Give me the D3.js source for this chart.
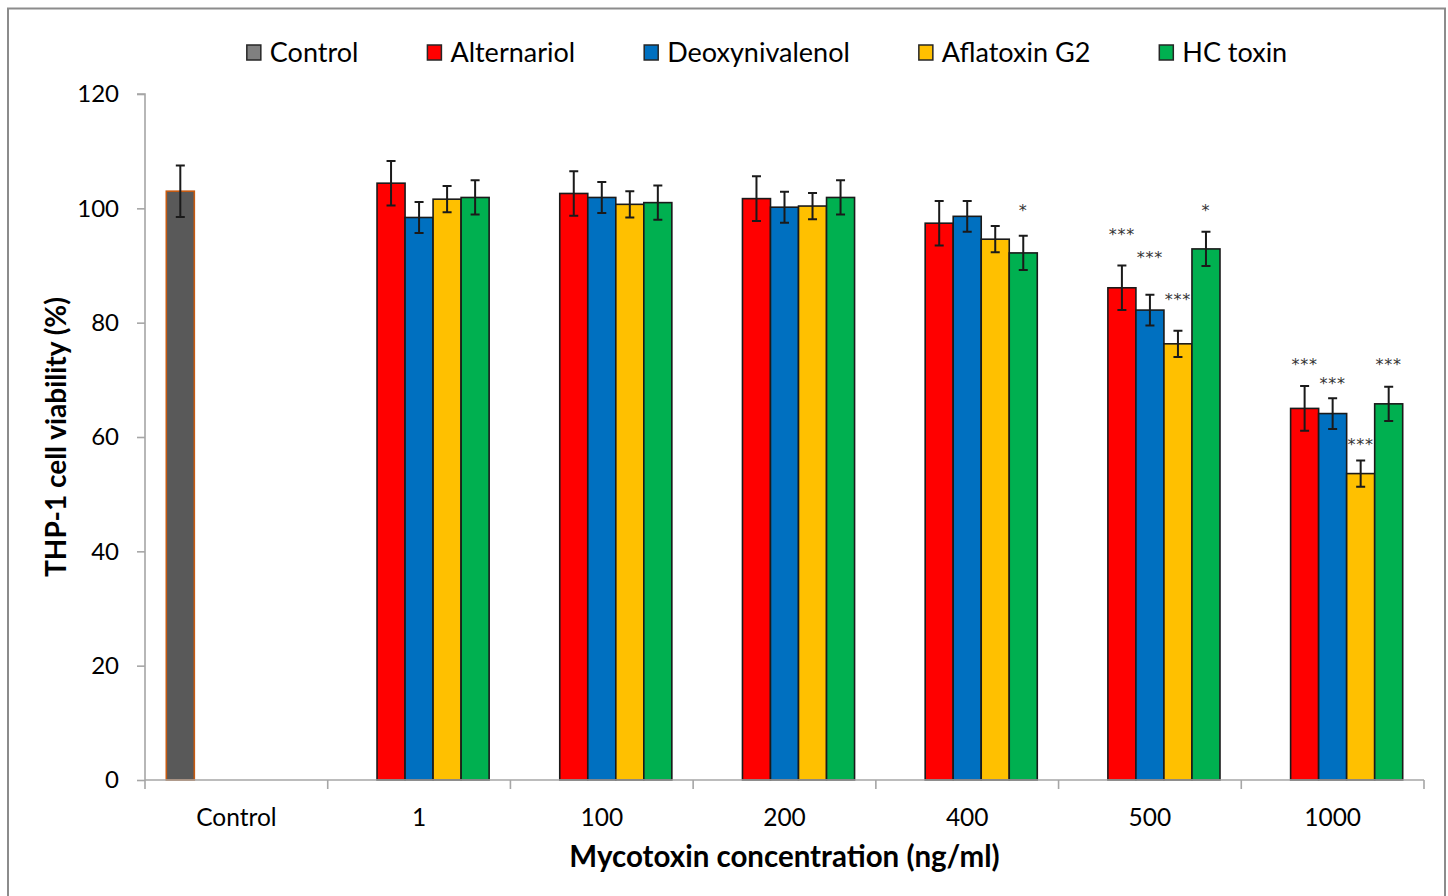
<!DOCTYPE html>
<html>
<head>
<meta charset="utf-8">
<script src="https://cdn.jsdelivr.net/npm/d3@7"></script>
<style>
  html, body { margin: 0; padding: 0; background: #fff; }
  svg { display: block; }
</style>
</head>
<body>
<svg id="chart" width="1448" height="896"></svg>
<script>
// ---------- DATA ----------
const categories = ["Control", "1", "100", "200", "400", "500", "1000"];
const seriesNames = ["Control", "Alternariol", "Deoxynivalenol", "Aflatoxin G2", "HC toxin"];

const controlMean = [103.0, null, null, null, null, null, null];
const controlSD   = [4.5, null, null, null, null, null, null];

const alternariolMean = [null, 104.4, 102.6, 101.7, 97.4, 86.1, 65.0];
const alternariolSD   = [null, 3.9, 3.9, 3.9, 3.9, 3.9, 3.9];

const deoxynivalenolMean = [null, 98.4, 101.9, 100.2, 98.6, 82.2, 64.1];
const deoxynivalenolSD   = [null, 2.7, 2.7, 2.7, 2.7, 2.7, 2.7];

const aflatoxinG2Mean = [null, 101.6, 100.7, 100.4, 94.6, 76.3, 53.6];
const aflatoxinG2SD   = [null, 2.3, 2.3, 2.3, 2.3, 2.3, 2.3];

const hcToxinMean = [null, 101.9, 101.0, 101.9, 92.2, 92.9, 65.8];
const hcToxinSD   = [null, 3.0, 3.0, 3.0, 3.0, 3.0, 3.0];

// significance labels and the level (in % units) at which they are written
const alternariolSig    = ["", "", "", "", "", "***", "***"];
const alternariolSigAt  = [null, null, null, null, null, 96.1, 73.3];
const deoxynivalenolSig   = ["", "", "", "", "", "***", "***"];
const deoxynivalenolSigAt = [null, null, null, null, null, 92.0, 70.0];
const aflatoxinG2Sig   = ["", "", "", "", "", "***", "***"];
const aflatoxinG2SigAt = [null, null, null, null, null, 84.7, 59.3];
const hcToxinSig   = ["", "", "", "", "*", "*", "***"];
const hcToxinSigAt = [null, null, null, null, 100.3, 100.3, 73.3];

const yTicks = [0, 20, 40, 60, 80, 100, 120];

const xTitle = "Mycotoxin concentration (ng/ml)";
const yTitle = "THP-1 cell viability (%)";

// ---------- STYLE ----------
const fills   = ["#595959", "#ff0000", "#0070c0", "#ffc000", "#00b050"];
const legendFills = ["#808080", "#ff0000", "#0070c0", "#ffc000", "#00b050"];
const strokes = ["#c55a11", "#1a1a1a", "#1a1a1a", "#1a1a1a", "#1a1a1a"];
const FONT = "Lato, 'Open Sans', sans-serif";

const series = [
  { mean: controlMean,        sd: controlSD,        sig: null,               sigAt: null },
  { mean: alternariolMean,    sd: alternariolSD,    sig: alternariolSig,     sigAt: alternariolSigAt },
  { mean: deoxynivalenolMean, sd: deoxynivalenolSD, sig: deoxynivalenolSig,  sigAt: deoxynivalenolSigAt },
  { mean: aflatoxinG2Mean,    sd: aflatoxinG2SD,    sig: aflatoxinG2Sig,     sigAt: aflatoxinG2SigAt },
  { mean: hcToxinMean,        sd: hcToxinSD,        sig: hcToxinSig,         sigAt: hcToxinSigAt }
];

const svg = d3.select("#chart");

// outer frame
svg.append("rect").attr("x", 8).attr("y", 8.5).attr("width", 1437).attr("height", 900)
  .attr("fill", "none").attr("stroke", "#8c8c8c").attr("stroke-width", 2);

const plot = { left: 145, right: 1424, top: 94, bottom: 780 };

const x0 = d3.scaleBand().domain(categories).range([plot.left, plot.right]).paddingInner(0).paddingOuter(0);
const x1 = d3.scaleBand().domain(seriesNames).range([0, x0.bandwidth()]).paddingInner(0).paddingOuter(0.76);
const y = d3.scaleLinear().domain([0, 120]).range([plot.bottom, plot.top]);

// flatten data
const records = [];
series.forEach((s, si) => {
  categories.forEach((c, ci) => {
    if (s.mean[ci] == null) return;
    records.push({
      cat: c, name: seriesNames[si], si,
      mean: s.mean[ci], sd: s.sd[ci],
      sig: s.sig ? s.sig[ci] : "", sigAt: s.sigAt ? s.sigAt[ci] : null
    });
  });
});

// bars
svg.append("g").selectAll("rect").data(records).join("rect")
  .attr("x", d => x0(d.cat) + x1(d.name))
  .attr("y", d => y(d.mean))
  .attr("width", x1.bandwidth())
  .attr("height", d => y(0) - y(d.mean))
  .attr("fill", d => fills[d.si])
  .attr("stroke", d => strokes[d.si])
  .attr("stroke-width", 1.6);

// y axis
const yAxis = d3.axisLeft(y).tickValues(yTicks).tickSize(8).tickPadding(18);
const gy = svg.append("g").attr("transform", `translate(${plot.left},0)`).call(yAxis);
gy.select(".domain").attr("stroke", "#a6a6a6").attr("stroke-width", 1.6)
  .attr("d", `M-8,${plot.top}H0V${plot.bottom}`);
gy.selectAll(".tick line").attr("stroke", "#a6a6a6").attr("stroke-width", 1.6);
gy.selectAll(".tick text").attr("font-family", FONT).attr("font-size", 24).attr("fill", "#000");

// x axis
const xAxis = d3.axisBottom(x0).tickSize(0).tickPadding(29);
const gx = svg.append("g").attr("transform", `translate(0,${plot.bottom})`).call(xAxis);
gx.select(".domain").attr("stroke", "#a6a6a6").attr("stroke-width", 1.6)
  .attr("d", `M${plot.left},0H${plot.right}`);
gx.selectAll(".tick text").attr("font-family", FONT).attr("font-size", 24.5).attr("fill", "#000")
  .attr("dy", "0.71em");
// boundary ticks between categories
const boundaries = categories.map(c => x0(c)).concat([x0(categories[categories.length - 1]) + x0.bandwidth()]);
gx.append("g").selectAll("line").data(boundaries).join("line")
  .attr("x1", d => d).attr("x2", d => d).attr("y1", 0).attr("y2", 9)
  .attr("stroke", "#a6a6a6").attr("stroke-width", 1.6);

// error bars
const eb = svg.append("g").attr("stroke", "#1a1a1a").attr("stroke-width", 2).attr("fill", "none");
const cap = 4.5;
records.forEach(d => {
  const cx = x0(d.cat) + x1(d.name) + x1.bandwidth() / 2;
  const yt = y(d.mean + d.sd), yb = y(d.mean - d.sd);
  eb.append("path").attr("d",
    `M${cx},${yt}V${yb}M${cx - cap},${yt}H${cx + cap}M${cx - cap},${yb}H${cx + cap}`);
});

// significance stars
svg.append("g").selectAll("text").data(records.filter(d => d.sig)).join("text")
  .attr("x", d => x0(d.cat) + x1(d.name) + x1.bandwidth() / 2)
  .attr("y", d => y(d.sigAt) + 9)
  .attr("text-anchor", "middle")
  .attr("font-family", "'DejaVu Sans', sans-serif")
  .attr("font-size", 16)
  .attr("letter-spacing", 0.8)
  .attr("fill", "#333")
  .text(d => d.sig);

// axis titles
svg.append("text").attr("x", (plot.left + plot.right) / 2).attr("y", 867)
  .attr("text-anchor", "middle").attr("font-family", FONT).attr("font-weight", "bold")
  .attr("font-size", 29.5).attr("fill", "#000").text(xTitle);

svg.append("text").attr("transform", `translate(66,437) rotate(-90)`)
  .attr("text-anchor", "middle").attr("font-family", FONT).attr("font-weight", "bold")
  .attr("font-size", 28).attr("fill", "#000").text(yTitle);

// legend
const legend = svg.append("g");
const items = legend.selectAll("g").data(seriesNames).join("g");
items.append("rect").attr("x", 0).attr("y", -8).attr("width", 14).attr("height", 15)
  .attr("fill", (d, i) => legendFills[i]).attr("stroke", "#262626").attr("stroke-width", 1.5);
items.append("text").attr("x", 23).attr("y", 0).attr("dy", "0.35em")
  .attr("font-family", FONT).attr("font-size", 27).attr("fill", "#000").text(d => d);
let cursor = 0;
const gap = 69;
items.each(function () {
  const w = d3.select(this).select("text").node().getComputedTextLength();
  d3.select(this).attr("data-x", cursor);
  cursor += 23 + w + gap;
});
const totalW = cursor - gap;
const startX = 767 - totalW / 2;
items.attr("transform", function () {
  return `translate(${startX + (+d3.select(this).attr("data-x"))},53)`;
});
</script>
</body>
</html>
